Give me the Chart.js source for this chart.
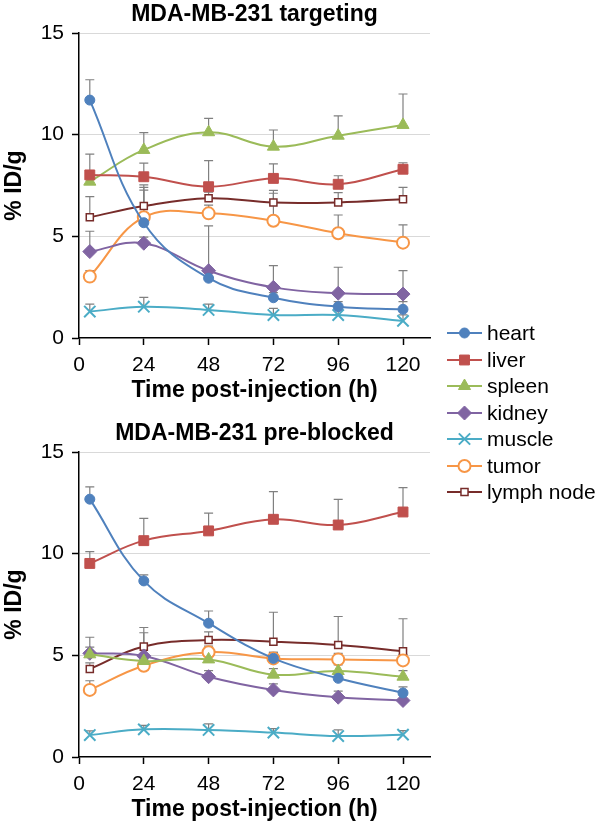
<!DOCTYPE html>
<html>
<head>
<meta charset="utf-8">
<script src="https://cdn.jsdelivr.net/npm/chart.js@4.4.1/dist/chart.umd.min.js"></script>
<style>
  body { margin: 0; background: #fff; width: 600px; height: 831px; position: relative; overflow: hidden;
         font-family: Arial, "Liberation Sans", sans-serif; }
  .panel { position: absolute; left: 0; }
  #targeting { top: 0; }
  #blocked { top: 419px; }
  #legend { position: absolute; left: 447px; top: 320px; }
  .item { display: flex; align-items: center; height: 26.5px; font-size: 21px; color: #000; white-space: nowrap; }
  .item canvas { margin-right: 4px; }
</style>
</head>
<body>
<canvas id="targeting" class="panel" width="440" height="412"></canvas>
<canvas id="blocked" class="panel" width="440" height="412"></canvas>
<div id="legend"></div>
<script>
// sampling times (h) and axis ticks
const times = [4, 24, 48, 72, 96, 120];
const xTicks = [0, 24, 48, 72, 96, 120];
const organs = ["heart", "liver", "spleen", "kidney", "muscle", "tumor", "lymph node"];

// MDA-MB-231 targeting (%ID/g)
const tHeart  = [11.7, 5.67, 2.94, 1.98, 1.54, 1.41];
const tLiver  = [8.02, 7.93, 7.44, 7.85, 7.56, 8.3];
const tSpleen = [7.69, 9.25, 10.12, 9.41, 9.95, 10.48];
const tKidney = [4.25, 4.66, 3.31, 2.49, 2.2, 2.16];
const tMuscle = [1.3, 1.54, 1.38, 1.13, 1.13, 0.84];
const tTumor  = [3.02, 5.94, 6.13, 5.77, 5.15, 4.69];
const tLymph  = [5.94, 6.49, 6.87, 6.66, 6.67, 6.82];
// upper error bars
const tHeartErr  = [1.0, 1.6, 0.3, 0.25, 0.25, 0.38];
const tLiverErr  = [1.02, 0.67, 1.28, 0.71, 0.42, 0.32];
const tSpleenErr = [0.3, 0.85, 0.68, 0.82, 0.97, 1.52];
const tKidneyErr = [1.0, 0.3, 2.2, 1.07, 1.28, 1.15];
const tMuscleErr = [0.37, 0.46, 0.29, 0.33, 0.3, 0.3];
const tTumorErr  = [0.3, 1.47, 0.4, 1.35, 0.9, 0.87];
const tLymphErr  = [1.01, 1.04, 0.3, 0.6, 0.48, 0.59];

// MDA-MB-231 pre-blocked (%ID/g)
const bHeart  = [12.68, 8.66, 6.58, 4.85, 3.87, 3.15];
const bLiver  = [9.52, 10.64, 11.12, 11.69, 11.41, 12.05];
const bSpleen = [5.05, 4.72, 4.8, 4.05, 4.23, 3.95];
const bKidney = [5.1, 4.97, 3.95, 3.3, 2.94, 2.78];
const bMuscle = [1.08, 1.36, 1.33, 1.2, 1.03, 1.1];
const bTumor  = [3.3, 4.49, 5.15, 4.85, 4.8, 4.75];
const bLymph  = [4.33, 5.43, 5.75, 5.67, 5.51, 5.2];
const bHeartErr  = [0.6, 0.3, 0.6, 0.3, 0.3, 0.3];
const bLiverErr  = [0.58, 1.1, 0.87, 1.36, 1.26, 1.2];
const bSpleenErr = [0.84, 0.3, 0.3, 0.3, 0.3, 0.3];
const bKidneyErr = [0.3, 1.4, 0.3, 0.3, 0.3, 0.3];
const bMuscleErr = [0.2, 0.2, 0.3, 0.2, 0.3, 0.2];
const bTumorErr  = [0.45, 0.3, 0.3, 0.3, 0.3, 0.3];
const bLymphErr  = [0.3, 0.68, 0.4, 1.45, 1.4, 1.6];

// look of each organ series
const styles = [
  { color: "#4F81BD", fill: "#4F81BD", point: "circle", r: 5, bw: 1 },
  { color: "#C0504D", fill: "#C0504D", point: "rect", r: 7, bw: 1 },
  { color: "#9BBB59", fill: "#9BBB59", point: "triangle", r: 7, bw: 1 },
  { color: "#8064A2", fill: "#8064A2", point: "rectRot", r: 7, bw: 1 },
  { color: "#4BACC6", fill: "#4BACC6", point: "crossRot", r: 8, bw: 2 },
  { color: "#F79646", fill: "#fff", point: "circle", r: 6, bw: 2 },
  { color: "#772C2A", fill: "#fff", point: "rect", r: 5, bw: 1.5 },
];

const font = 'Arial, "Liberation Sans", sans-serif';

// gray upward error bars, drawn under the markers
const errorBars = {
  id: "errorBars",
  beforeDatasetsDraw(chart) {
    const ctx = chart.ctx;
    const yScale = chart.scales.y;
    ctx.save();
    ctx.strokeStyle = "#808080";
    ctx.lineWidth = 1.2;
    chart.data.datasets.forEach((ds, i) => {
      const meta = chart.getDatasetMeta(i);
      meta.data.forEach((pt, j) => {
        const top = yScale.getPixelForValue(ds.data[j].y + ds.errors[j]);
        ctx.beginPath();
        ctx.moveTo(pt.x, pt.y);
        ctx.lineTo(pt.x, top);
        ctx.moveTo(pt.x - 4.5, top);
        ctx.lineTo(pt.x + 4.5, top);
        ctx.stroke();
      });
    });
    ctx.restore();
  },
};

function makePanel(id, title, series, errors) {
  const datasets = series.map((vals, i) => ({
    label: organs[i],
    data: vals.map((v, k) => ({ x: times[k], y: v })),
    errors: errors[i],
    borderColor: styles[i].color,
    borderWidth: 2,
    backgroundColor: styles[i].fill,
    pointStyle: styles[i].point,
    pointRadius: styles[i].r,
    pointBorderWidth: styles[i].bw,
    pointBorderColor: styles[i].color,
    pointBackgroundColor: styles[i].fill,
    tension: 0.4,
    fill: false,
  }));

  new Chart(document.getElementById(id), {
    type: "line",
    data: { datasets },
    plugins: [errorBars],
    options: {
      responsive: false,
      animation: false,
      layout: { padding: { left: 0, right: 8, top: 0, bottom: 0 } },
      plugins: {
        legend: { display: false },
        tooltip: { enabled: false },
        title: {
          display: true,
          text: title,
          fullSize: false,
          color: "#000",
          font: { family: font, size: 23, weight: "bold" },
          padding: { top: 1.2, bottom: 4.2 },
        },
      },
      scales: {
        x: {
          type: "linear",
          min: 0,
          max: 130,
          afterBuildTicks: (s) => { s.ticks = xTicks.map((v) => ({ value: v })); },
          afterFit: (s) => { s.height = 74; },
          grid: { drawOnChartArea: false, tickLength: 7, tickColor: "#000", tickWidth: 1.5 },
          border: { color: "#000", width: 1.5 },
          ticks: { color: "#000", font: { family: font, size: 21 }, padding: 8, maxRotation: 0, autoSkip: false },
          title: {
            display: true,
            text: "Time post-injection (h)",
            color: "#000",
            font: { family: font, size: 23, weight: "bold" },
            padding: { top: 0, bottom: 7.2 },
          },
        },
        y: {
          min: 0,
          max: 15,
          afterFit: (s) => { s.width = 79; },
          ticks: { stepSize: 5, color: "#000", font: { family: font, size: 21 }, padding: 8 },
          grid: {
            color: (c) => (c.tick && c.tick.value === 0 ? "rgba(0,0,0,0)" : "#D9D9D9"),
            lineWidth: 1,
            tickLength: 7,
            tickColor: "#000",
            tickWidth: 1.5,
          },
          border: { color: "#000", width: 1.5 },
          title: {
            display: true,
            text: "% ID/g",
            color: "#000",
            font: { family: font, size: 23, weight: "bold" },
            padding: { top: 1.2, bottom: 0 },
          },
        },
      },
    },
  });
}

makePanel("targeting", "MDA-MB-231 targeting",
  [tHeart, tLiver, tSpleen, tKidney, tMuscle, tTumor, tLymph],
  [tHeartErr, tLiverErr, tSpleenErr, tKidneyErr, tMuscleErr, tTumorErr, tLymphErr]);

makePanel("blocked", "MDA-MB-231 pre-blocked",
  [bHeart, bLiver, bSpleen, bKidney, bMuscle, bTumor, bLymph],
  [bHeartErr, bLiverErr, bSpleenErr, bKidneyErr, bMuscleErr, bTumorErr, bLymphErr]);

// legend: line with marker, then the organ name
function drawMarker(ctx, s, x, y) {
  const r = s.r;
  ctx.fillStyle = s.fill;
  ctx.strokeStyle = s.color;
  ctx.lineWidth = s.bw;
  ctx.beginPath();
  if (s.point === "circle") {
    ctx.arc(x, y, r, 0, Math.PI * 2);
  } else if (s.point === "rect") {
    const h = r * Math.SQRT1_2;
    ctx.rect(x - h, y - h, 2 * h, 2 * h);
  } else if (s.point === "triangle") {
    for (let k = 0; k < 3; k++) {
      const a = k * 2 * Math.PI / 3;
      ctx[k ? "lineTo" : "moveTo"](x + Math.sin(a) * r, y - Math.cos(a) * r);
    }
    ctx.closePath();
  } else if (s.point === "rectRot") {
    ctx.moveTo(x, y - r); ctx.lineTo(x + r, y); ctx.lineTo(x, y + r); ctx.lineTo(x - r, y);
    ctx.closePath();
  } else if (s.point === "crossRot") {
    const h = r * Math.SQRT1_2;
    ctx.moveTo(x - h, y - h); ctx.lineTo(x + h, y + h);
    ctx.moveTo(x + h, y - h); ctx.lineTo(x - h, y + h);
    ctx.stroke();
    return;
  }
  ctx.fill();
  ctx.stroke();
}

const legend = document.getElementById("legend");
organs.forEach((name, i) => {
  const row = document.createElement("div");
  row.className = "item";
  const c = document.createElement("canvas");
  c.width = 36; c.height = 26;
  const ctx = c.getContext("2d");
  ctx.strokeStyle = styles[i].color;
  ctx.lineWidth = 2;
  ctx.beginPath(); ctx.moveTo(0, 13); ctx.lineTo(35, 13); ctx.stroke();
  drawMarker(ctx, styles[i], 17.5, 13);
  const label = document.createElement("span");
  label.textContent = name;
  row.appendChild(c);
  row.appendChild(label);
  legend.appendChild(row);
});
</script>
</body>
</html>
